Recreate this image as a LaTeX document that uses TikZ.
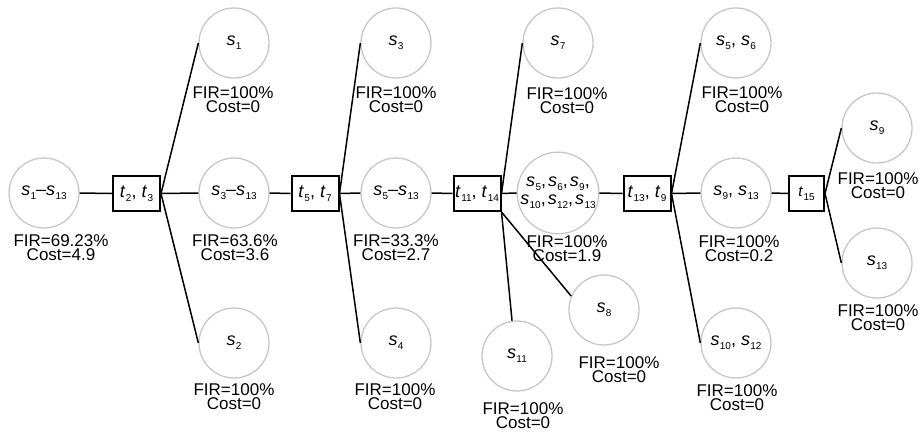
\documentclass[tikz,border=0pt]{standalone}
\usepackage{fontspec}
\setmainfont{Liberation Sans}
\newcommand{\sv}[1]{\textit{s}\kern0.3pt\raisebox{-4pt}{\fontsize{10}{10}\selectfont #1}}
\newcommand{\tv}[1]{\textit{t}\kern0.5pt\raisebox{-4pt}{\fontsize{10}{10}\selectfont #1}}
\begin{document}
\begin{tikzpicture}[x=1pt,y=-1pt,
  st/.style={circle, draw=black!22, line width=1.3pt, minimum size=70pt, inner sep=0pt, font=\fontsize{18}{18}\selectfont},
  tb/.style={draw, line width=2pt, minimum width=47pt, minimum height=35pt, inner sep=0pt, font=\fontsize{18}{18}\selectfont},
  lbl/.style={anchor=north, inner sep=0pt, align=center, font=\fontsize{17}{14}\selectfont},
  edge/.style={line width=1.5pt}]
\useasboundingbox (0,0) rectangle (921,432);
% main row
\node[st] (c0) at (44,193) {\sv{1}--\sv{13}};
\node[tb] (b1) at (136.5,193.5) {\tv{2}, \tv{3}};
\node[st] (c1) at (234,193) {\sv{3}--\sv{13}};
\node[tb] (b2) at (315,193.5) {\tv{5}, \tv{7}};
\node[st] (c2) at (396,193) {\sv{5}--\sv{13}};
\node[tb] (b3) at (477,193.5) {\tv{11}, \tv{14}};
\node[st, minimum size=76pt, align=center, font=\fontsize{18}{18}\selectfont] (c3) at (558,193) {\sv{5},\kern2pt\sv{6},\kern2pt\sv{9},\\\sv{10},\kern2pt\sv{12},\kern2pt\sv{13}};
\node[tb] (b4) at (647,193.5) {\tv{13}, \tv{9}};
\node[st] (c4) at (736,193) {\sv{9}, \sv{13}};
\node[tb, minimum width=35pt, font=\fontsize{15}{15}\selectfont] (b5) at (806.5,193.5) {\tv{15}};
% branches
\node[st] (u1) at (234,43) {\sv{1}};
\node[st] (d1) at (234,343) {\sv{2}};
\node[st] (u2) at (396,43) {\sv{3}};
\node[st] (d2) at (396,343) {\sv{4}};
\node[st] (u3) at (558,43) {\sv{7}};
\node[st] (d3) at (517,356) {\sv{11}};
\node[st] (e3) at (604,310) {\sv{8}};
\node[st] (u4) at (736,43) {\sv{5}, \sv{6}};
\node[st] (d4) at (736,343) {\sv{10}, \sv{12}};
\node[st] (u5) at (877,128) {\sv{9}};
\node[st] (d5) at (877,263) {\sv{13}};
% labels
\node[lbl] (l0) at (61,234) {FIR=69.23\%\\Cost=4.9};
\node[lbl] (l1) at (235,234) {FIR=63.6\%\\Cost=3.6};
\node[lbl] (l2) at (396,234) {FIR=33.3\%\\Cost=2.7};
\node[lbl] (l3) at (567,235) {FIR=100\%\\Cost=1.9};
\node[lbl] (l4) at (739,235) {FIR=100\%\\Cost=0.2};
\node[lbl] (lu1) at (233,86) {FIR=100\%\\Cost=0};
\node[lbl] (lu2) at (396,86) {FIR=100\%\\Cost=0};
\node[lbl] (lu3) at (567,87) {FIR=100\%\\Cost=0};
\node[lbl] (lu4) at (742,86) {FIR=100\%\\Cost=0};
\node[lbl] (lu5) at (878,172) {FIR=100\%\\Cost=0};
\node[lbl] (ld1) at (234,383) {FIR=100\%\\Cost=0};
\node[lbl] (ld2) at (395,383) {FIR=100\%\\Cost=0};
\node[lbl] (ld3) at (523,402) {FIR=100\%\\Cost=0};
\node[lbl] (le3) at (619,356) {FIR=100\%\\Cost=0};
\node[lbl] (ld4) at (737,384) {FIR=100\%\\Cost=0};
\node[lbl] (ld5) at (878,304) {FIR=100\%\\Cost=0};
% connectors
\draw[edge] (c0.east) -- (b1.west);
\draw[edge] (b1.east) -- (c1.west);
\draw[edge] (b1.east) -- (u1.west);
\draw[edge] (b1.east) -- (d1.west);
\draw[edge] (c1.east) -- (b2.west);
\draw[edge] (b2.east) -- (c2.west);
\draw[edge] (b2.east) -- (u2.west);
\draw[edge] (b2.east) -- (d2.west);
\draw[edge] (c2.east) -- (b3.west);
\draw[edge] (b3.east) -- (c3.west);
\draw[edge] (b3.east) -- (u3.west);
\draw[edge] (b3.south east) -- (d3.98);
\draw[edge] (b3.south east) -- (e3.157);
\draw[edge] (c3.east) -- (b4.west);
\draw[edge] (b4.east) -- (c4.west);
\draw[edge] (b4.east) -- (u4.west);
\draw[edge] (b4.east) -- (d4.west);
\draw[edge] (c4.east) -- (b5.west);
\draw[edge] (b5.east) -- (u5.west);
\draw[edge] (b5.east) -- (d5.west);
\end{tikzpicture}
\end{document}
